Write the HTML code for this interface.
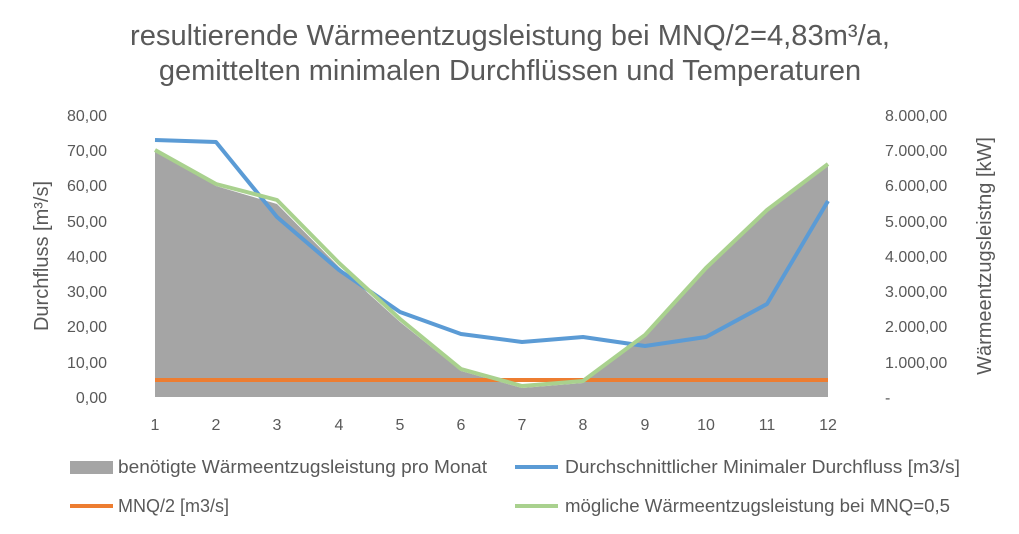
<!DOCTYPE html>
<html><head><meta charset="utf-8"><style>
body{margin:0;background:#fff}
svg text{font-family:"Liberation Sans",sans-serif;fill:#595959}
</style></head><body>
<svg width="1019" height="529" viewBox="0 0 1019 529" xmlns="http://www.w3.org/2000/svg">
<rect width="1019" height="529" fill="#fff"/>
<text x="510" y="45" font-size="29" text-anchor="middle" textLength="760" lengthAdjust="spacingAndGlyphs">resultierende Wärmeentzugsleistung bei MNQ/2=4,83m³/a,</text>
<text x="510" y="80" font-size="29" text-anchor="middle">gemittelten minimalen Durchflüssen und Temperaturen</text>
<g font-size="16" text-anchor="end">
<text x="107" y="403">0,00</text><text x="107" y="368">10,00</text><text x="107" y="332">20,00</text><text x="107" y="297">30,00</text><text x="107" y="262">40,00</text><text x="107" y="227">50,00</text><text x="107" y="191">60,00</text><text x="107" y="156">70,00</text><text x="107" y="121">80,00</text>
</g>
<g font-size="16" text-anchor="start">
<text x="885" y="403">-</text><text x="885" y="368">1.000,00</text><text x="885" y="332">2.000,00</text><text x="885" y="297">3.000,00</text><text x="885" y="262">4.000,00</text><text x="885" y="227">5.000,00</text><text x="885" y="191">6.000,00</text><text x="885" y="156">7.000,00</text><text x="885" y="121">8.000,00</text>
</g>
<text transform="translate(48,256) rotate(-90)" font-size="20" text-anchor="middle">Durchfluss [m³/s]</text>
<text transform="translate(991,256) rotate(-90)" font-size="20" text-anchor="middle">Wärmeentzugsleistng [kW]</text>
<g font-size="16" text-anchor="middle">
<text x="155" y="430">1</text><text x="216" y="430">2</text><text x="277" y="430">3</text><text x="339" y="430">4</text><text x="400" y="430">5</text><text x="461" y="430">6</text><text x="522" y="430">7</text><text x="583" y="430">8</text><text x="645" y="430">9</text><text x="706" y="430">10</text><text x="767" y="430">11</text><text x="828" y="430">12</text>
</g>
<polygon fill="#a5a5a5" points="155,397 155,151 216,186 277,204 339,267 400,322 461,371 522,388 583,383 645,336 706,270 767,211 828,166 828,397"/>
<polyline fill="none" stroke="#ed7d31" stroke-width="4" points="155,380 828,380"/>
<polyline fill="none" stroke="#5b9bd5" stroke-width="4" stroke-linejoin="round" points="155,140 216,142 277,217 339,270 400,312 461,334 522,342 583,337 645,346 706,337 767,304 828,201"/>
<polyline fill="none" stroke="#a9d18e" stroke-width="4" stroke-linejoin="round" points="155,150 216,184 277,200 339,263 400,319 461,369 522,386 583,381 645,335 706,268 767,210 828,164"/>
<rect x="70" y="461" width="43" height="13" fill="#a5a5a5"/>
<text x="118" y="473" font-size="18" textLength="369" lengthAdjust="spacingAndGlyphs">benötigte Wärmeentzugsleistung pro Monat</text>
<line x1="515" y1="467" x2="558" y2="467" stroke="#5b9bd5" stroke-width="4"/>
<text x="565" y="473" font-size="18" textLength="395" lengthAdjust="spacingAndGlyphs">Durchschnittlicher Minimaler Durchfluss [m3/s]</text>
<line x1="70" y1="506" x2="113" y2="506" stroke="#ed7d31" stroke-width="4"/>
<text x="118" y="512" font-size="18">MNQ/2  [m3/s]</text>
<line x1="515" y1="506" x2="558" y2="506" stroke="#a9d18e" stroke-width="4"/>
<text x="565" y="512" font-size="18" textLength="385" lengthAdjust="spacingAndGlyphs">mögliche Wärmeentzugsleistung bei MNQ=0,5</text>
</svg>
</body></html>
